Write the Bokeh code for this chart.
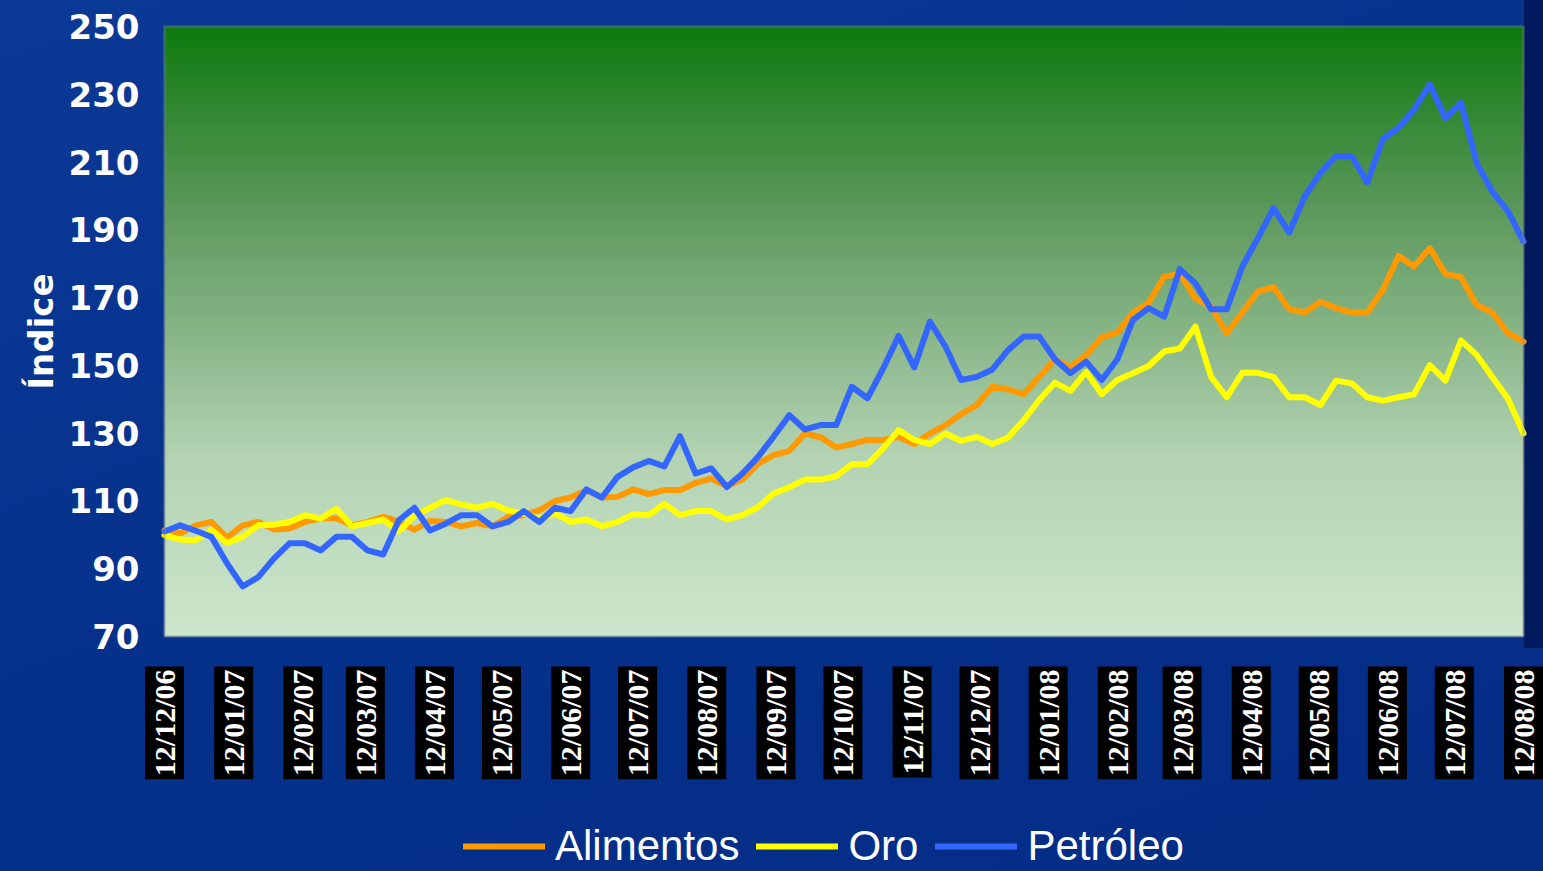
import math
import numpy as np
import pandas as pd
from bokeh.plotting import figure
from bokeh.models import Range1d, Label, Legend, LegendItem, BoxAnnotation
from bokeh.core.properties import value
from bokeh.embed import file_html
from bokeh.resources import INLINE

# ---------------- data ----------------
dates = pd.date_range("2006-12-12", periods=88, freq="7D")

alimentos = [101.3, 100.4, 102.8, 103.8, 99.2, 102.8, 103.8, 101.6, 101.9, 103.8,
             104.9, 104.9, 102.8, 103.8, 105.3, 104.0, 101.5, 104.1, 103.8, 102.5,
             103.5, 102.5, 105.3, 105.8, 107.2, 110.0, 111.0, 113.2, 111.0, 111.2,
             113.4, 112.0, 113.2, 113.2, 115.3, 116.6, 114.3, 116.3, 121.0, 123.5,
             124.8, 129.9, 128.8, 125.8, 126.8, 128.0, 128.0, 128.9, 126.8, 129.9,
             132.4, 135.6, 138.3, 143.7, 142.9, 141.5, 146.6, 151.8, 149.6, 153.0,
             158.3, 159.7, 165.6, 168.5, 176.2, 177.0, 169.8, 167.3, 159.5, 165.6,
             171.8, 173.1, 166.6, 165.6, 168.8, 166.9, 165.6, 165.6, 172.3, 182.3,
             179.2, 184.6, 177.0, 176.0, 167.8, 165.6, 159.5, 157.0]

oro = [99.9, 98.6, 98.4, 101.5, 97.6, 99.4, 102.8, 103.0, 103.8, 105.8,
       104.8, 107.7, 102.5, 103.5, 104.5, 101.0, 105.5, 108.0, 110.2, 109.0,
       108.0, 109.2, 107.2, 106.3, 104.8, 106.3, 103.8, 104.5, 102.5, 103.8,
       106.1, 105.8, 109.2, 105.8, 107.0, 107.0, 104.5, 105.8, 108.2, 112.2,
       114.0, 116.3, 116.3, 117.3, 120.8, 120.8, 125.5, 130.9, 128.0, 126.8,
       129.9, 127.7, 128.9, 126.8, 128.7, 133.8, 139.8, 144.9, 142.5, 148.1,
       141.5, 145.7, 147.7, 149.8, 154.1, 155.0, 161.4, 146.6, 140.6, 147.8,
       147.8, 146.6, 140.6, 140.6, 138.3, 145.5, 144.7, 140.6, 139.6, 140.6,
       141.5, 150.1, 145.5, 157.3, 153.1, 146.6, 140.2, 129.9]

petroleo = [101.0, 102.8, 101.2, 99.4, 91.6, 84.8, 87.5, 93.0, 97.5, 97.5,
            95.4, 99.4, 99.4, 95.4, 94.2, 104.3, 108.0, 101.3, 103.3, 105.8,
            105.8, 102.5, 103.8, 107.0, 103.8, 108.0, 107.0, 113.4, 111.0, 117.1,
            119.9, 121.8, 120.2, 129.1, 118.1, 119.6, 114.1, 118.1, 123.0, 129.0,
            135.3, 131.1, 132.4, 132.4, 143.7, 140.3, 149.0, 158.7, 149.4, 162.9,
            155.5, 145.7, 146.6, 148.8, 154.5, 158.5, 158.5, 151.8, 147.7, 151.1,
            145.7, 151.8, 163.4, 166.9, 164.4, 178.4, 174.2, 166.6, 166.6, 179.2,
            187.6, 196.4, 189.2, 199.9, 206.8, 211.7, 211.7, 204.0, 216.8, 220.1,
            225.5, 232.9, 223.0, 227.5, 209.7, 201.3, 195.5, 186.5]

month_labels = ["12/12/06", "12/01/07", "12/02/07", "12/03/07", "12/04/07", "12/05/07",
                "12/06/07", "12/07/07", "12/08/07", "12/09/07", "12/10/07", "12/11/07",
                "12/12/07", "12/01/08", "12/02/08", "12/03/08", "12/04/08", "12/05/08",
                "12/06/08", "12/07/08", "12/08/08"]

y_ticks = [70, 90, 110, 130, 150, 170, 190, 210, 230, 250]
y_title = "Índice"

series_names = ["Alimentos", "Oro", "Petróleo"]
series_colors = ["#FF9900", "#FFFF00", "#3366FF"]

# ---------------- layout constants (pixels) ----------------
W, H = 1543, 871
LEFT, RIGHT_EDGE, TOP, BOTTOM = 164, 1523, 26, 636   # green plot area
x_start = pd.Timestamp("2006-12-12")
x_end = pd.Timestamp("2008-08-12")
Y0, Y1 = 70, 250
x0_ms = x_start.value / 1e6
x1_ms = x_end.value / 1e6
pxpm = (RIGHT_EDGE - LEFT) / (x1_ms - x0_ms)
ppu = (BOTTOM - TOP) / (Y1 - Y0)


def px_to_x(px):
    return x0_ms + (px - LEFT) / pxpm


def py_to_y(py):
    return Y1 - (py - TOP) / ppu


# the frame covers the whole canvas; the plot area is drawn inside it
p = figure(width=W, height=H, x_axis_type="datetime",
           x_range=Range1d(px_to_x(0), px_to_x(W)),
           y_range=Range1d(py_to_y(H), py_to_y(0)),
           output_backend="svg", toolbar_location=None,
           min_border_left=0, min_border_right=0,
           min_border_top=0, min_border_bottom=0)
p.xaxis.visible = False
p.yaxis.visible = False
p.xgrid.visible = False
p.ygrid.visible = False
p.border_fill_color = None
p.background_fill_color = None
p.outline_line_color = None
p.styles = {"background": (
    "linear-gradient(90deg, rgba(0,26,94,0) 0%, rgba(0,26,94,0) 98.75%, #001a5e 98.75%) 0 0 / 100% 648px no-repeat, "
    "linear-gradient(160deg, #0b3996 0%, #05318c 50%, #032c84 100%)")}

# vertical green gradient for plot area
stops = [(0.0, (205, 230, 205)), (0.3, (178, 210, 178)), (0.7, (92, 152, 92)), (1.0, (14, 122, 14))]
n = 300
grad = np.zeros((n, 1), dtype=np.uint32)
view = grad.view(dtype=np.uint8).reshape((n, 1, 4))
for k in range(n):
    t = k / (n - 1)
    for a in range(len(stops) - 1):
        t0, c0 = stops[a]
        t1, c1 = stops[a + 1]
        if t0 <= t <= t1:
            f = (t - t0) / (t1 - t0)
            c = [int(round(c0[j] + (c1[j] - c0[j]) * f)) for j in range(3)]
            break
    view[k, 0, 0] = c[0]
    view[k, 0, 1] = c[1]
    view[k, 0, 2] = c[2]
    view[k, 0, 3] = 255
p.image_rgba(image=[grad], x=x0_ms, y=Y0, dw=x1_ms - x0_ms, dh=Y1 - Y0)

# lines
renderers = []
for name, vals, col in zip(series_names, [alimentos, oro, petroleo], series_colors):
    r = p.line(dates, vals, line_color=col, line_width=6, line_join="round", line_cap="round")
    renderers.append(r)

# gray border of the plot area
p.add_layout(BoxAnnotation(left=x0_ms, right=x1_ms, bottom=Y0, top=Y1,
                           fill_alpha=0, line_color="#8a8a8a", line_width=3))

# y tick labels
p.text(x=[px_to_x(139)] * len(y_ticks), y=y_ticks, text=[str(v) for v in y_ticks],
       text_align="right", text_baseline="middle", text_color="white",
       text_font=value("DejaVu Sans"), text_font_style="bold", text_font_size="34px")

# y axis title
p.text(x=[px_to_x(40)], y=[(Y0 + Y1) / 2], text=[y_title], angle=math.pi / 2,
       text_align="center", text_baseline="middle", text_color="white",
       text_font=value("DejaVu Sans"), text_font_style="bold", text_font_size="34px")

# month tick labels (white on black boxes, rotated)
label_y = py_to_y(666)
for lab in month_labels:
    d = pd.to_datetime(lab, format="%d/%m/%y")
    p.add_layout(Label(x=d.value / 1e6, y=label_y, text=lab, angle=math.pi / 2,
                       text_align="right", text_baseline="middle",
                       text_color="white", text_font="Liberation Sans Narrow",
                       text_font_style="bold", text_font_size="30px",
                       background_fill_color="black", padding=3))

# legend
legend = Legend(items=[LegendItem(label=nm, renderers=[r]) for nm, r in zip(series_names, renderers)],
                location=(463, 1), orientation="horizontal",
                background_fill_alpha=0, border_line_color=None,
                padding=0, margin=0, spacing=17, label_standoff=10,
                glyph_width=82, glyph_height=42, label_height=42,
                label_text_color="white", label_text_font="Liberation Sans",
                label_text_font_size="42px")
p.add_layout(legend)

open("out.html", "w").write(file_html(p, INLINE))
